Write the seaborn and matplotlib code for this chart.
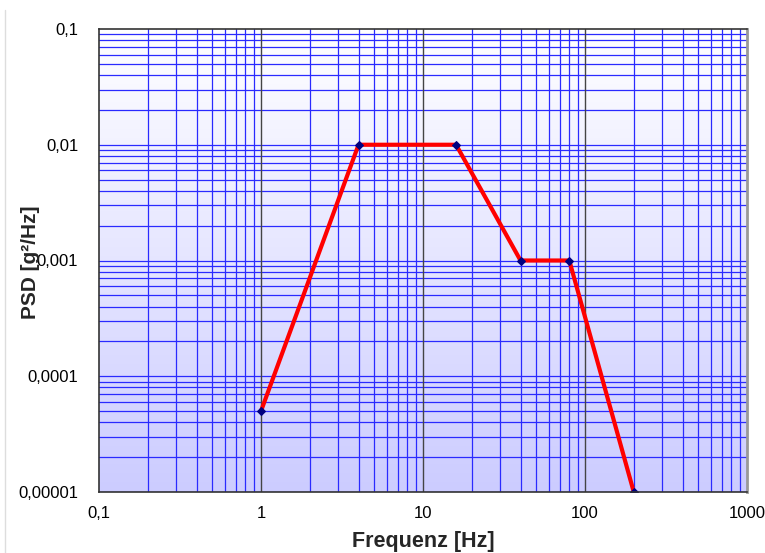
import numpy as np
import pandas as pd
import matplotlib
matplotlib.use("Agg")
import matplotlib.pyplot as plt
import seaborn as sns
from matplotlib.lines import Line2D

freq = [1, 4, 16, 40, 80, 200]
psd = [0.00005, 0.01, 0.01, 0.001, 0.001, 0.00001]
x_ticks = [0.1, 1, 10, 100, 1000]
x_labels = ["0,1", "1", "10", "100", "1000"]
y_ticks = [0.00001, 0.0001, 0.001, 0.01, 0.1]
y_labels = ["0,00001", "0,0001", "0,001", "0,01", "0,1"]

sns.set_style("white")
plt.rcParams['font.family'] = ['Liberation Sans', 'DejaVu Sans']

df = pd.DataFrame({"Frequenz": freq, "PSD": psd})

fig = plt.figure(figsize=(7.65, 5.53), dpi=100)
ax = fig.add_axes([99/765, 1-492/553, (747-99)/765, (492-29)/553])

ax.set_xscale("log")
ax.set_yscale("log")

# gradient background
grad = np.linspace(0, 1, 256).reshape(-1, 1)
c_top = np.array([1.0, 1.0, 1.0])
c_bot = np.array([204/255, 204/255, 1.0])
img = c_top[None, None, :] * (1 - grad[:, :, None]) + c_bot[None, None, :] * grad[:, :, None]
ax.imshow(img, extent=[0, 1, 0, 1], transform=ax.transAxes, aspect='auto', zorder=0)
ax.set_xlim(0.1, 1000)
ax.set_ylim(0.00001, 0.1)

# grid
for d in [0.1, 1, 10, 100, 1000]:
    for m in range(2, 10):
        v = d * m
        if v < 1000:
            ax.axvline(v, color='#2a2aff', lw=0.9, zorder=1)
for d in [0.00001, 0.0001, 0.001, 0.01]:
    for m in range(1, 10):
        v = d * m
        ax.axhline(v, color='#2a2aff', lw=0.9, zorder=1)
for v in [1, 10, 100]:
    ax.axvline(v, color='#444444', lw=1.0, zorder=1.5)

sns.lineplot(data=df, x="Frequenz", y="PSD", ax=ax, color='#ff0000', lw=3,
             marker='D', markersize=4.5, markerfacecolor='#000080',
             markeredgecolor='#000080', zorder=3)

ax.set_xticks(x_ticks)
ax.set_xticklabels(x_labels)
ax.set_yticks(y_ticks)
ax.set_yticklabels(y_labels)
ax.minorticks_off()
ax.tick_params(axis='both', length=0, labelsize=12, colors='black')
ax.tick_params(axis='x', pad=10)
ax.tick_params(axis='y', pad=15)

ax.set_xlabel("Frequenz [Hz]", fontsize=15.5, fontweight='bold')
ax.set_ylabel("PSD [g²/Hz]", fontsize=15, fontweight='bold')
ax.xaxis.set_label_coords(0.5, -(541-492)/463, transform=ax.transAxes)
ax.xaxis.label.set_va('center')
ax.yaxis.set_label_coords(-(99-30)/648, (492-262)/463, transform=ax.transAxes)
ax.yaxis.label.set_va('center')

for s in ['left', 'bottom', 'top']:
    ax.spines[s].set_color('#333333')
    ax.spines[s].set_linewidth(1.2)
ax.spines['right'].set_color('#999999')
ax.spines['right'].set_linewidth(2)
for s in ax.spines.values():
    s.set_zorder(4)

fig.add_artist(Line2D([5/765, 5/765], [0, 1-10/553], color='#dddddd', lw=1, transform=fig.transFigure))

fig.savefig("out.png", dpi=100)
